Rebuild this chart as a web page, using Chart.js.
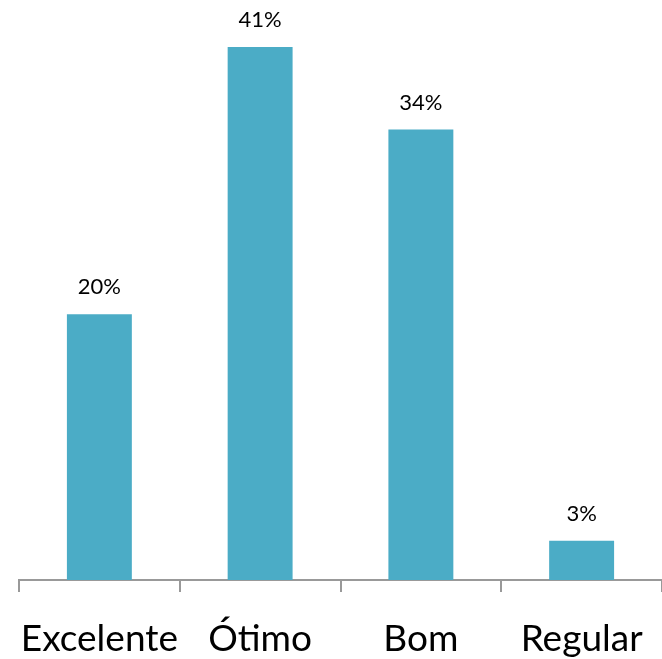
<!DOCTYPE html>
<html>
<head>
<meta charset="utf-8">
<script src="https://cdn.jsdelivr.net/npm/chart.js@4"></script>
<style>
html,body{margin:0;padding:0;background:#fff;overflow:hidden;}
canvas{display:block;}
</style>
</head>
<body>
<canvas id="c" width="662" height="659"></canvas>
<script>
const categories = ["Excelente", "Ótimo", "Bom", "Regular"];
const values = [20.3, 40.7, 34.4, 3.0];
const valueLabels = ["20%", "41%", "34%", "3%"];

const labelPlugin = {
  id: 'valueLabels',
  afterDatasetsDraw(chart) {
    const ctx = chart.ctx;
    const meta = chart.getDatasetMeta(0);
    ctx.save();
    ctx.font = '22px Lato';
    ctx.fillStyle = '#000';
    ctx.textAlign = 'center';
    ctx.textBaseline = 'middle';
    meta.data.forEach((bar, i) => {
      ctx.fillText(valueLabels[i], bar.x, bar.y - 27);
    });
    ctx.restore();
  }
};

new Chart(document.getElementById('c'), {
  type: 'bar',
  data: {
    labels: categories,
    datasets: [{
      data: values,
      backgroundColor: '#4BACC6',
      borderWidth: 0,
      categoryPercentage: 1.0,
      barPercentage: 0.404
    }]
  },
  options: {
    responsive: false,
    animation: false,
    devicePixelRatio: 1,
    layout: { padding: { left: 19, right: -1, top: 17, bottom: 0 } },
    plugins: { legend: { display: false }, tooltip: { enabled: false } },
    scales: {
      x: {
        offset: true,
        grid: {
          display: true,
          offset: true,
          drawOnChartArea: false,
          drawTicks: true,
          tickLength: 12,
          color: '#999',
          lineWidth: 2
        },
        border: { display: true, color: '#999', width: 2 },
        ticks: {
          font: { family: 'Lato', size: 37 },
          color: '#000',
          padding: 25,
          maxRotation: 0,
          autoSkip: false
        },
        afterFit(s) {
          s.height = 79;
          s.paddingLeft = 0;
          s.paddingRight = 0;
        }
      },
      y: {
        display: false,
        min: 0,
        max: 43
      }
    }
  },
  plugins: [labelPlugin]
});
</script>
</body>
</html>
